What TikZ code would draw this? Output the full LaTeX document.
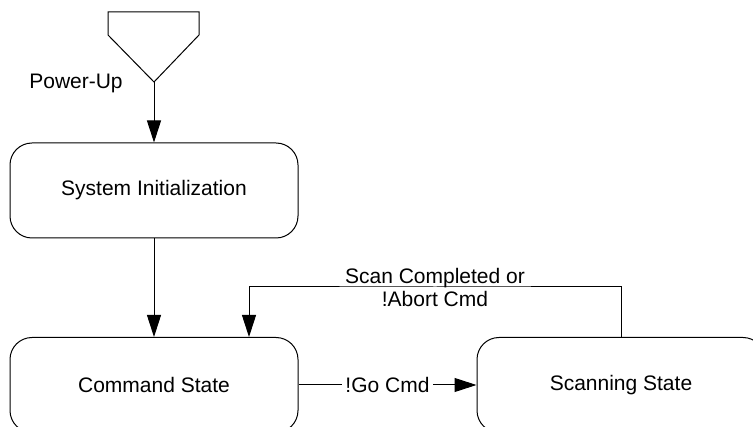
\documentclass[tikz,border=0pt]{standalone}
\usepackage{fontspec}
\setmainfont{Liberation Sans}
\usetikzlibrary{arrows.meta}

\begin{document}
\begin{tikzpicture} [x=1pt,y=-1pt,line width=1pt,
			state/.style={draw,rectangle,rounded corners=22pt,minimum width=288pt,minimum height=95pt,inner sep=0pt},
			flow/.style={-{Triangle[length=22pt,width=14pt]}},
			every node/.style={font=\fontsize{21}{23}\selectfont}]
			\useasboundingbox (0,0) rectangle (753,427);
			
			% power-up connector
			\draw (108,12) -- (199,12) -- (199,35) -- (154,82) -- (108,35) -- cycle;
			\coordinate (pwr) at (154,82);
			\node (pwrlbl) at (76,83) {Power-Up};
			
			\node[state] (init) at (154,190.5) {System Initialization};
			\node[state] (cmd) at (154,385) {Command State};
			\node[state] (scan) at (621,385) {Scanning State};
			
			\draw[flow] (pwr) -- (init.north);
			\draw[flow] (init.south) -- (cmd.north);
			\draw[flow] (cmd.east) -- node[fill=white,inner sep=3pt] (golbl) {!Go Cmd} (scan.west);
			
			\coordinate (ret) at (435,287);
			\draw[flow] (scan.north) |- (ret) -| ([xshift=95pt]cmd.north);
			\node[align=center] (retlbl) at (ret) {Scan Completed or\\!Abort Cmd};
			\end{tikzpicture}
\end{document}
